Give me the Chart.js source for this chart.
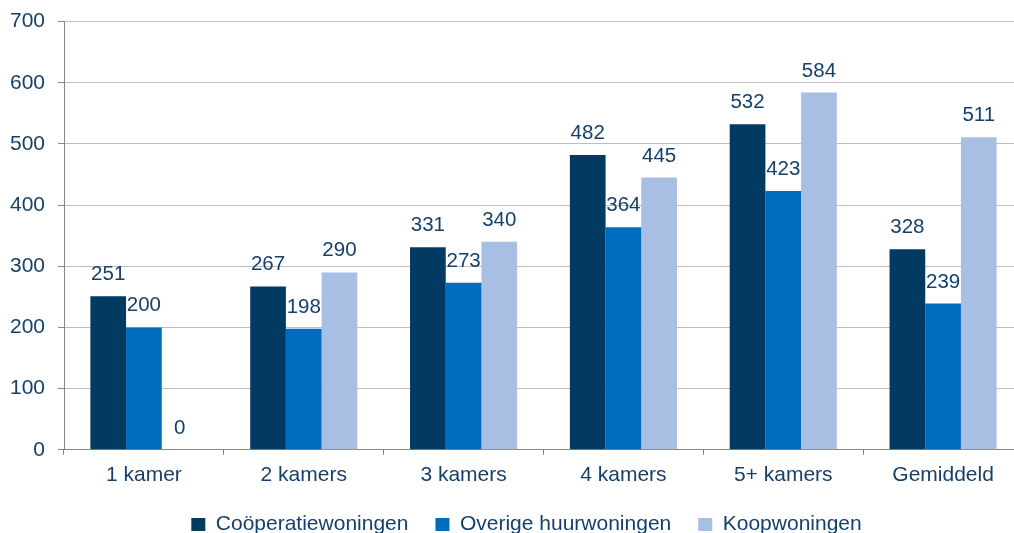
<!DOCTYPE html>
<html>
<head>
<meta charset="utf-8">
<script src="https://cdn.jsdelivr.net/npm/chart.js@4.4.0/dist/chart.umd.min.js"></script>
<style>
html,body{margin:0;padding:0;background:#fff;overflow:hidden;width:1014px;height:533px;}
#wrap{position:absolute;left:0;top:-4px;width:1024px;height:558px;}
</style>
</head>
<body>
<div id="wrap"><canvas id="c"></canvas></div>
<script>
const categories = ['1 kamer', '2 kamers', '3 kamers', '4 kamers', '5+ kamers', 'Gemiddeld'];
const seriesNames = ['Coöperatiewoningen', 'Overige huurwoningen', 'Koopwoningen'];
const cooperatie = [251, 267, 331, 482, 532, 328];
const overigeHuur = [200, 198, 273, 364, 423, 239];
const koop = [0, 290, 340, 445, 584, 511];
const yTicks = [0, 100, 200, 300, 400, 500, 600, 700];

const colors = ['#023a62', '#006cbf', '#a6bfe2'];
const textColor = '#15406a';
const fontFam = '"Liberation Sans", Arial, sans-serif';

const valueLabels = {
  id: 'valueLabels',
  afterDatasetsDraw(chart) {
    const ctx = chart.ctx;
    ctx.save();
    ctx.font = '20.5px ' + fontFam;
    ctx.fillStyle = textColor;
    ctx.textAlign = 'center';
    ctx.textBaseline = 'alphabetic';
    chart.data.datasets.forEach((ds, i) => {
      chart.getDatasetMeta(i).data.forEach((bar, j) => {
        ctx.fillText(String(ds.data[j]), bar.x, bar.y - 16);
      });
    });
    ctx.restore();
  }
};

const legendShift = {
  id: 'legendShift',
  afterLayout(chart) {
    if (chart.legend) {
      chart.legend.left += 15;
      chart.legend.right += 15;
      chart.legend.top -= 9;
      chart.legend.bottom -= 9;
    }
  }
};

new Chart(document.getElementById('c'), {
  type: 'bar',
  data: {
    labels: categories,
    datasets: [
      { label: seriesNames[0], data: cooperatie, backgroundColor: colors[0] },
      { label: seriesNames[1], data: overigeHuur, backgroundColor: colors[1] },
      { label: seriesNames[2], data: koop, backgroundColor: colors[2] }
    ]
  },
  options: {
    responsive: true,
    maintainAspectRatio: false,
    animation: false,
    devicePixelRatio: 1,
    layout: { padding: { top: 1, right: 1, left: 0, bottom: 0 } },
    datasets: { bar: { categoryPercentage: 0.67, barPercentage: 1.0, borderWidth: 0 } },
    plugins: {
      legend: {
        position: 'bottom',
        labels: {
          font: { family: fontFam, size: 21 },
          color: textColor,
          boxWidth: 14,
          boxHeight: 13,
          padding: 27
        }
      },
      tooltip: { enabled: false }
    },
    scales: {
      x: {
        grid: { display: true, drawOnChartArea: false, offset: true, color: '#868686', tickLength: 5, lineWidth: 1 },
        border: { color: '#868686', width: 1 },
        ticks: { font: { family: fontFam, size: 21 }, color: textColor, padding: 8, maxRotation: 0 }
      },
      y: {
        min: 0, max: 700,
        afterFit(scale) { scale.width = 64; },
        afterBuildTicks(scale) { scale.ticks = yTicks.map(v => ({ value: v })); },
        grid: { color: '#bdbdbd', tickLength: 6, lineWidth: 1, tickColor: '#868686' },
        border: { color: '#868686', width: 1 },
        ticks: { font: { family: fontFam, size: 21 }, color: textColor, padding: 13, stepSize: 100 }
      }
    }
  },
  plugins: [valueLabels, legendShift]
});
</script>
</body>
</html>
